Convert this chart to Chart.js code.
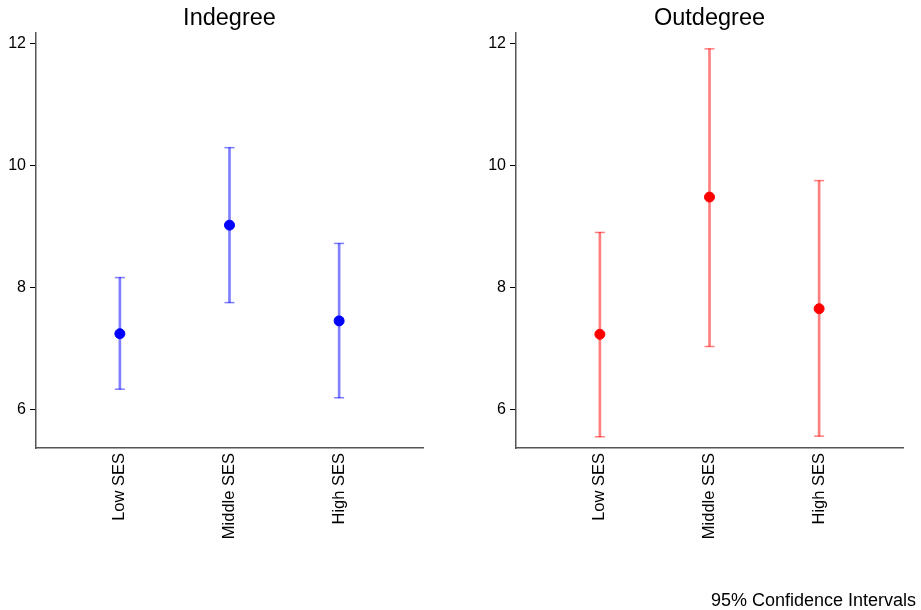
<!DOCTYPE html>
<html>
<head>
<meta charset="utf-8">
<script src="https://cdn.jsdelivr.net/npm/chart.js@4"></script>
<style>
  html, body { margin: 0; padding: 0; background: #fff; }
  #wrap { position: relative; width: 921px; height: 610px; overflow: hidden; }
  .panel { position: absolute; top: 0; height: 610px; }
  #left { left: 0; width: 460px; }
  #right { left: 460px; width: 461px; }
  #note {
    position: absolute; right: 5px; top: 590px;
    font: 18px "Liberation Sans", Arial, sans-serif; color: #000;
  }
</style>
</head>
<body>
<div id="wrap">
  <div class="panel" id="left"><canvas id="inChart"></canvas></div>
  <div class="panel" id="right"><canvas id="outChart"></canvas></div>
  <div id="note">95% Confidence Intervals</div>
</div>
<script>
/* ---- Data ---- */
const groups = ["Low SES", "Middle SES", "High SES"];
const groupPos = [1, 2, 3];
const yTicks = [6, 8, 10, 12];

const inMean  = [7.24, 9.02, 7.45];
const inLow   = [6.33, 7.75, 6.19];
const inHigh  = [8.16, 10.29, 8.72];

const outMean = [7.23, 9.48, 7.65];
const outLow  = [5.55, 7.03, 5.56];
const outHigh = [8.90, 11.91, 9.75];

const FONT = "'Liberation Sans', Arial, sans-serif";

/* ---- One panel ---- */
function makePanel(id, title, mean, low, high, solid, faded, yWidth, padRight) {
  const ctx = document.getElementById(id);

  const points = groupPos.map((x, i) => ({ x: x, y: mean[i] }));
  const bars = groupPos.map((x, i) => ({ x: x, y: [low[i], high[i]] }));
  const caps = [];
  groupPos.forEach((x, i) => {
    caps.push({ x: x, y: low[i] });
    caps.push({ x: x, y: high[i] });
  });

  new Chart(ctx, {
    data: {
      datasets: [
        {
          type: "scatter",
          data: points,
          backgroundColor: solid,
          borderColor: solid,
          pointRadius: 5,
          pointHoverRadius: 5,
          order: 0
        },
        {
          type: "scatter",
          data: caps,
          pointStyle: "line",
          pointRadius: 5,
          pointHoverRadius: 5,
          borderColor: faded,
          borderWidth: 1.5,
          order: 1
        },
        {
          type: "bar",
          data: bars,
          backgroundColor: faded,
          borderWidth: 0,
          barThickness: 2,
          order: 2
        }
      ]
    },
    options: {
      responsive: false,
      animation: false,
      events: [],
      layout: { padding: { left: 0, right: padRight, top: 0, bottom: 0 } },
      plugins: {
        legend: { display: false },
        tooltip: { enabled: false },
        title: {
          display: true,
          text: title,
          fullSize: false,
          color: "#000",
          font: { family: FONT, size: 23.5, weight: "normal" },
          padding: { top: 4, bottom: 0.8 }
        }
      },
      scales: {
        x: {
          type: "linear",
          min: 0.235,
          max: 3.765,
          offset: false,
          afterBuildTicks: s => { s.ticks = groupPos.map(v => ({ value: v })); },
          afterFit: s => { s.height = 162; },
          grid: { display: false, drawTicks: false, offset: false },
          border: { display: true, color: "#555", width: 1.5 },
          ticks: {
            color: "#000",
            padding: 5,
            minRotation: 90,
            maxRotation: 90,
            autoSkip: false,
            font: { family: FONT, size: 16.5 },
            callback: v => groups[groupPos.indexOf(v)] || ""
          }
        },
        y: {
          type: "linear",
          min: 5.366,
          max: 12.17,
          afterBuildTicks: s => { s.ticks = yTicks.map(v => ({ value: v })); },
          afterFit: s => { s.width = yWidth; },
          grid: {
            display: true,
            drawOnChartArea: false,
            drawTicks: true,
            tickLength: 6,
            tickColor: "#000",
            tickWidth: 1
          },
          border: { display: true, color: "#555", width: 1.5 },
          ticks: {
            color: "#000",
            padding: 4,
            font: { family: FONT, size: 16 }
          }
        }
      }
    }
  });
}

document.addEventListener("DOMContentLoaded", () => {
  const l = document.getElementById("inChart");
  l.width = 460; l.height = 610;
  const r = document.getElementById("outChart");
  r.width = 461; r.height = 610;
  makePanel("inChart", "Indegree", inMean, inLow, inHigh,
    "#0000ff", "rgba(0,0,255,0.5)", 36, 37);
  makePanel("outChart", "Outdegree", outMean, outLow, outHigh,
    "#ff0000", "rgba(255,0,0,0.5)", 56, 18);
});
</script>
</body>
</html>
